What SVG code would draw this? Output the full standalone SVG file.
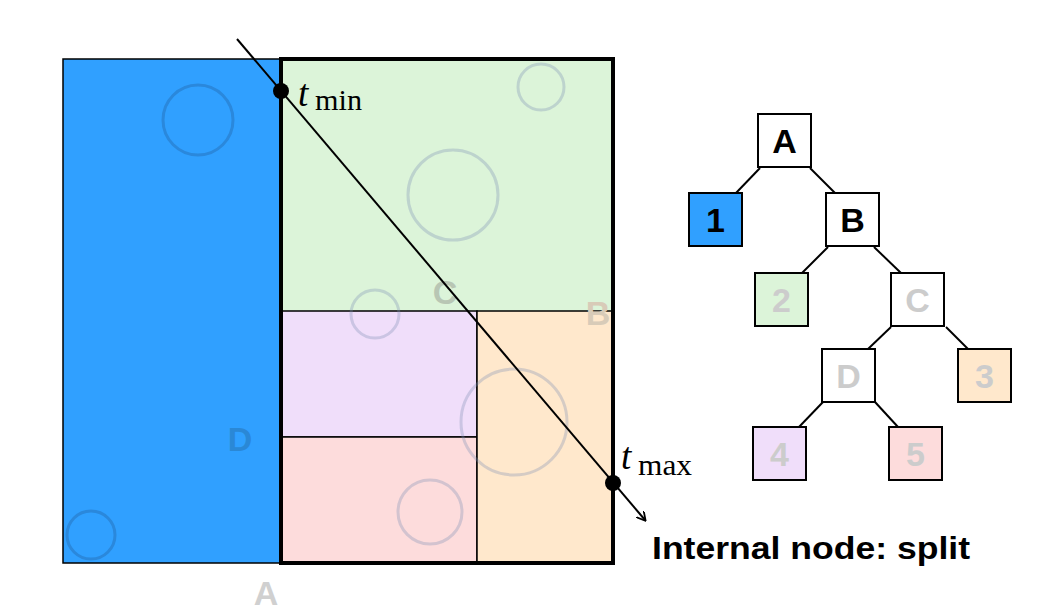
<svg xmlns="http://www.w3.org/2000/svg" width="1060" height="613" viewBox="0 0 1060 613">
<style>
.ci{fill:none;stroke:#7d8fb3;stroke-opacity:0.32;stroke-width:3}
.cb{fill:none;stroke:#2a88dc;stroke-width:3}
.nd{stroke:#000;stroke-width:2}
.nt{font-family:"Liberation Sans",Arial,sans-serif;font-weight:700;font-size:34px;text-anchor:middle}
.fl{font-family:"Liberation Sans",Arial,sans-serif;font-weight:700;font-size:34px;text-anchor:middle}
.ed{stroke:#000;stroke-width:2;fill:none}
.mth{font-family:"Liberation Serif",serif;fill:#000}
</style>
<defs>
<marker id="arr" markerWidth="10" markerHeight="10" refX="8" refY="5" orient="auto" markerUnits="userSpaceOnUse">
<path d="M0,0 L9,5 L0,10" fill="none" stroke="#000" stroke-width="1.8"/>
</marker>
</defs>
<rect width="1060" height="613" fill="#fff"/>
<g id="region-1">
<rect x="63" y="59" width="218" height="504" fill="#30a0ff" stroke="#000" stroke-width="1.5"/>
<circle class="cb" cx="198" cy="120" r="35"/>
<circle class="cb" cx="91" cy="535" r="24"/>
<text class="fl" x="240" y="451" fill="#2a88d6">D</text>
</g>
<g id="region-2">
<rect x="281" y="59" width="332" height="252" fill="#dcf4d9"/>
<circle class="ci" cx="453" cy="195" r="45"/>
<circle class="ci" cx="541" cy="87" r="23"/>
</g>
<g id="region-4">
<rect x="281" y="311" width="196" height="126" fill="#f0defa" stroke="#000" stroke-width="1.5"/>
</g>
<g id="region-5">
<rect x="281" y="437" width="196" height="126" fill="#fddcdc" stroke="#000" stroke-width="1.5"/>
<circle class="ci" cx="430" cy="512" r="32"/>
</g>
<g id="region-3">
<rect x="477" y="311" width="136" height="252" fill="#ffe8cc" stroke="#000" stroke-width="1.5"/>
</g>
<circle class="ci" cx="375" cy="314" r="24"/>
<circle class="ci" cx="514" cy="422" r="53"/>
<text class="fl" x="445" y="304" fill="#b8c6b4">C</text>
<text class="fl" x="598" y="325" fill="#d8cbb8">B</text>
<text class="fl" x="266" y="605" fill="#d0d0d0">A</text>
<rect x="281" y="59" width="332" height="504" fill="none" stroke="#000" stroke-width="4"/>
<g id="ray">
<line x1="237" y1="39" x2="645" y2="520" stroke="#000" stroke-width="2" marker-end="url(#arr)"/>
<circle cx="281" cy="91" r="8" fill="#000"/>
<circle cx="613" cy="483" r="8" fill="#000"/>
<text class="mth" x="298" y="106" font-size="37" font-style="italic">t</text>
<text class="mth" x="315" y="110" font-size="30" textLength="47" lengthAdjust="spacingAndGlyphs">min</text>
<text class="mth" x="621" y="469" font-size="37" font-style="italic">t</text>
<text class="mth" x="638" y="475" font-size="30" textLength="54" lengthAdjust="spacingAndGlyphs">max</text>
</g>
<g id="connectors">
<line class="ed" x1="760" y1="168" x2="736" y2="193"/>
<line class="ed" x1="810" y1="168" x2="835" y2="193"/>
<line class="ed" x1="828" y1="247" x2="802" y2="273"/>
<line class="ed" x1="874" y1="247" x2="901" y2="273"/>
<line class="ed" x1="891" y1="327" x2="868" y2="349"/>
<line class="ed" x1="946" y1="327" x2="968" y2="349"/>
<line class="ed" x1="823" y1="402" x2="799" y2="427"/>
<line class="ed" x1="875" y1="402" x2="898" y2="427"/>
</g>
<g id="node-A"><rect class="nd" x="758" y="114" width="53" height="53" fill="#fff"/><text class="nt" x="784.5" y="153" fill="#000">A</text></g>
<g id="node-1"><rect class="nd" x="689" y="193" width="53" height="53" fill="#30a0ff"/><text class="nt" x="715.5" y="232" fill="#000">1</text></g>
<g id="node-B"><rect class="nd" x="826" y="193" width="53" height="53" fill="#fff"/><text class="nt" x="852.5" y="232" fill="#000">B</text></g>
<g id="node-2"><rect class="nd" x="755" y="273" width="53" height="53" fill="#dcf4d9"/><text class="nt" x="781.5" y="312" fill="#cccccc">2</text></g>
<g id="node-C"><rect class="nd" x="891" y="273" width="53" height="53" fill="#fff"/><text class="nt" x="917.5" y="312" fill="#cccccc">C</text></g>
<g id="node-D"><rect class="nd" x="822" y="349" width="53" height="53" fill="#fff"/><text class="nt" x="848.5" y="388" fill="#cccccc">D</text></g>
<g id="node-3"><rect class="nd" x="958" y="349" width="53" height="53" fill="#ffe8cc"/><text class="nt" x="984.5" y="388" fill="#cccccc">3</text></g>
<g id="node-4"><rect class="nd" x="753" y="427" width="53" height="53" fill="#f0defa"/><text class="nt" x="779.5" y="466" fill="#cccccc">4</text></g>
<g id="node-5"><rect class="nd" x="889" y="427" width="53" height="53" fill="#fddcdc"/><text class="nt" x="915.5" y="466" fill="#cccccc">5</text></g>
<text x="652" y="559" font-family="'Liberation Sans',Arial,sans-serif" font-weight="700" font-size="32" textLength="318" lengthAdjust="spacingAndGlyphs" fill="#000">Internal node: split</text>
</svg>
